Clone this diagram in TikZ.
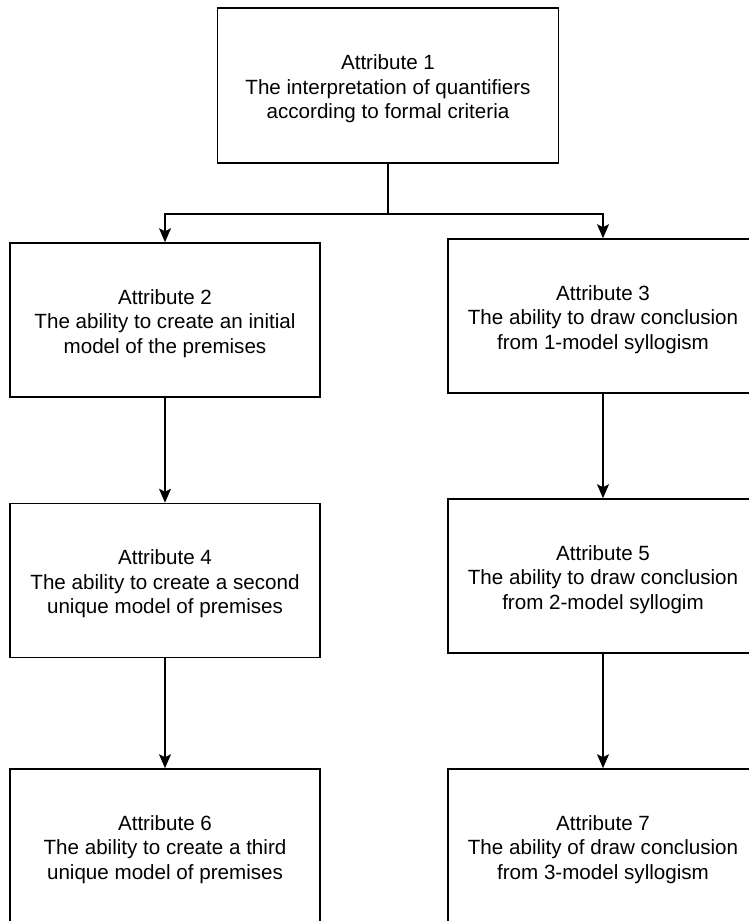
\documentclass[tikz,border=0pt]{standalone}
\usepackage{fontspec}
\setmainfont{Liberation Sans}
\usetikzlibrary{arrows.meta}
\newcommand{\toplift}{\rule{0pt}{22pt}}
\begin{document}
\begin{tikzpicture}[x=1pt,y=-1pt,
  attbox/.style={draw=black, line width=1.6pt, fill=white, inner sep=0pt,
    align=center, font=\fontsize{20.6}{24.5}\selectfont},
  wide/.style={minimum width=341pt, minimum height=155pt},
  std/.style={minimum width=310pt, minimum height=154pt},
  link/.style={line width=1.6pt},
  arr/.style={line width=1.6pt, -{Stealth[length=14pt,width=12pt,inset=3pt]}}]
\useasboundingbox (0,0) rectangle (749,921);
\clip (0,0) rectangle (749,921);
\node[attbox,wide] (a1) at (388,85.5) {\toplift Attribute 1\\The interpretation of quantifiers\\according to formal criteria};
\node[attbox,std] (a2) at (165,320) {\toplift Attribute 2\\The ability to create an initial\\model of the premises};
\node[attbox,std] (a3) at (603,316) {\toplift Attribute 3\\The ability to draw conclusion\\from 1-model syllogism};
\node[attbox,std] (a4) at (165,580.5) {\toplift Attribute 4\\The ability to create a second\\unique model of premises};
\node[attbox,std] (a5) at (603,576) {\toplift Attribute 5\\The ability to draw conclusion\\from 2-model syllogim};
\node[attbox,std] (a6) at (165,846) {\toplift Attribute 6\\The ability to create a third\\unique model of premises};
\node[attbox,std] (a7) at (603,846) {\toplift Attribute 7\\The ability of draw conclusion\\from 3-model syllogism};
\coordinate (split) at (388,214);
\draw[link] (a1.south) -- (split);
\draw[arr] (split) -| (a2.north);
\draw[arr] (split) -| (a3.north);
\draw[arr] (a2.south) -- (a4.north);
\draw[arr] (a3.south) -- (a5.north);
\draw[arr] (a4.south) -- (a6.north);
\draw[arr] (a5.south) -- (a7.north);
\end{tikzpicture}
\end{document}
